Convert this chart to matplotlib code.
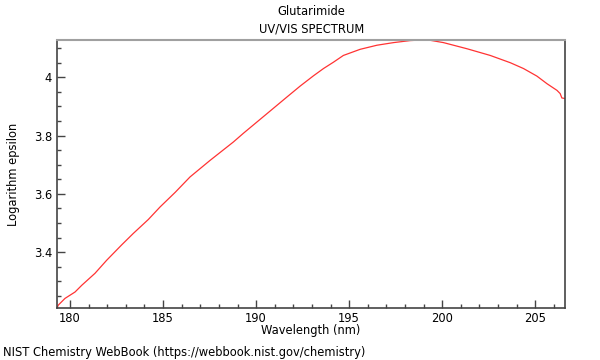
import matplotlib
matplotlib.use("Agg")
import matplotlib.pyplot as plt
from matplotlib.ticker import MultipleLocator, FuncFormatter

wavelength = [179.30, 179.37, 179.73, 180.27, 180.63, 181.34, 181.97, 182.78, 183.40,
              184.21, 184.84, 185.65, 186.45, 187.53, 188.78, 189.32, 190.58, 191.65,
              192.37, 193.08, 193.62, 194.16, 194.69, 195.59, 196.49, 197.38, 198.28,
              198.90, 199.35, 200.07, 201.33, 202.58, 203.66, 204.37, 205.09, 205.63,
              206.17, 206.34, 206.43, 206.61]
log_eps = [3.208, 3.218, 3.241, 3.263, 3.286, 3.327, 3.372, 3.425, 3.464,
           3.512, 3.555, 3.605, 3.658, 3.715, 3.778, 3.808, 3.875, 3.932,
           3.970, 4.005, 4.030, 4.052, 4.075, 4.096, 4.110, 4.119, 4.126,
           4.128, 4.127, 4.119, 4.098, 4.075, 4.050, 4.030, 4.004, 3.978,
           3.955, 3.944, 3.929, 3.927]

title = "Glutarimide"
subtitle = "UV/VIS SPECTRUM"
xlabel = "Wavelength (nm)"
ylabel = "Logarithm epsilon"
footer = "NIST Chemistry WebBook (https://webbook.nist.gov/chemistry)"

plt.rcParams['font.family'] = ['DejaVu Sans']
fs = 8.3

fig = plt.figure(figsize=(6, 3.6), dpi=100)
ax = fig.add_axes([0.095, 0.1444, 0.8467, 0.7445])
ax.plot(wavelength, log_eps, color='#ff3333', lw=0.9)
ax.set_xlim(179.3, 206.6)
ax.set_ylim(3.208, 4.128)

ax.xaxis.set_major_locator(MultipleLocator(5))
ax.xaxis.set_minor_locator(MultipleLocator(1))
ax.yaxis.set_major_locator(MultipleLocator(0.2))
ax.yaxis.set_minor_locator(MultipleLocator(0.05))
ax.yaxis.set_major_formatter(FuncFormatter(lambda v, p: f"{v:g}"))

ax.tick_params(which='both', direction='in', top=False, right=False, colors='#444444',
               labelcolor='black', labelsize=fs)
ax.tick_params(which='major', length=6, width=1)
ax.tick_params(which='minor', length=3, width=1)
ax.tick_params(axis='x', pad=3)

for s in ['left', 'bottom', 'right']:
    ax.spines[s].set_color('#444444')
    ax.spines[s].set_linewidth(1.2)
ax.spines['top'].set_color('#a0a0a0')
ax.spines['top'].set_linewidth(1.5)

ax.set_xlabel(xlabel, fontsize=fs, labelpad=-1)
ax.set_ylabel(ylabel, fontsize=fs, labelpad=10)

fig.text(0.519, 0.967, title, ha='center', va='center', fontsize=fs)
fig.text(0.519, 0.919, subtitle, ha='center', va='center', fontsize=fs)
fig.text(0.005, 0.022, footer, ha='left', va='center', fontsize=fs)

fig.savefig("out.png", dpi=100)
